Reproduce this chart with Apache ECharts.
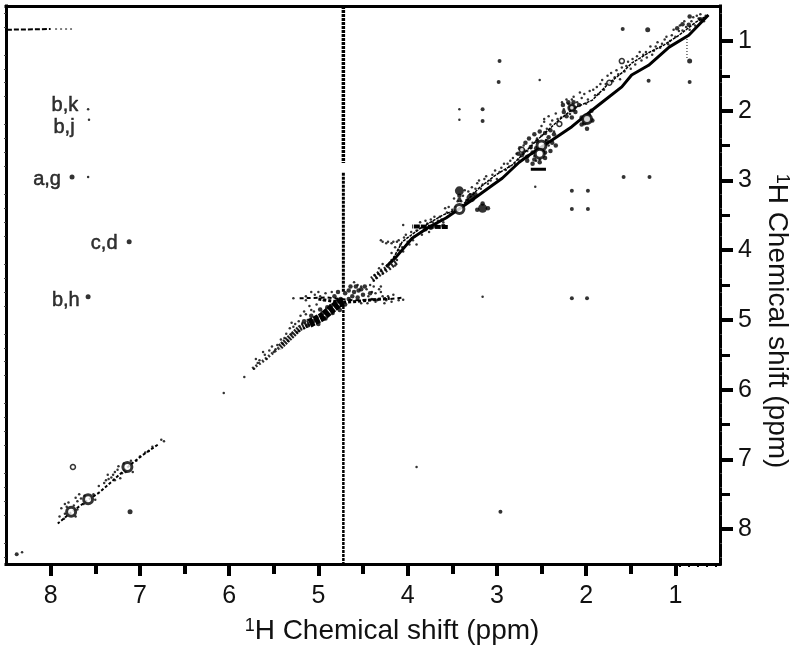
<!DOCTYPE html>
<html><head><meta charset="utf-8">
<style>html,body{margin:0;padding:0;background:#fff}#c{width:800px;height:654px}</style>
<script src="https://cdn.jsdelivr.net/npm/echarts@6/dist/echarts.min.js"></script>
</head><body><div id="c"></div>
<script>
// ---- tick values (ppm)
const majorTicks = [1,2,3,4,5,6,7,8];
const halfTicks = [1.5,2.5,3.5,4.5,5.5,6.5,7.5];
const fineTicksY = [0.6,0.8,1.2,1.4,1.6,1.8,2.2,2.4,2.6,2.8,3.2,3.4,3.6,3.8,4.2,4.4,4.6,4.8,5.2,5.4,5.6,5.8,6.2,6.4,6.6,6.8,7.2,7.4,7.6,7.8,8.2,8.4];
const fineTicksX = [0.55,0.65,0.75,0.85,0.95];
// ---- diagonal ridges [F2 ppm, F1 ppm]
const ridgeLower = [[0.63,0.63],[0.85,0.92],[1.07,1.09],[1.30,1.35],[1.49,1.49],[1.60,1.66],[1.86,1.92],[2.00,2.06],[2.16,2.23],[2.38,2.42],[2.64,2.64],[2.75,2.74],[2.94,2.97],[3.05,3.07],[3.31,3.31],[3.57,3.54],[3.76,3.67],[3.95,3.83],[4.13,4.10],[4.24,4.24]];
const ridgeUpper = [[0.63,0.63],[0.77,0.73],[0.96,0.92],[1.13,1.06],[1.30,1.17],[1.49,1.32],[1.60,1.46],[1.74,1.60],[1.93,1.85],[2.13,1.96],[2.30,2.13],[2.58,2.46],[2.83,2.78],[3.01,2.92],[3.20,3.11],[3.42,3.40],[3.61,3.50],[3.84,3.67],[4.06,3.88],[4.17,4.14]];
const ridgeMidUpper = [[4.13,4.17],[4.22,4.26],[4.30,4.32],[4.40,4.42]];
const ridgeWaterCore = [[4.72,4.74],[4.77,4.76],[4.96,4.96],[5.10,5.05]];
const ridgeMidLower = [[5.10,5.05],[5.21,5.12],[5.44,5.40]];
const ridgeMidTail = [[5.44,5.40],[5.63,5.60],[5.74,5.70]];
const ridgeAromatic = [[6.80,6.79],[6.97,6.94],[7.11,7.08],[7.30,7.30],[7.45,7.47],[7.59,7.59],[7.76,7.75],[7.92,7.92]];
// ---- solvent streaks
const waterUpper = [[4.72,0.5],[4.72,2.75]];
const waterMiddle = [[4.72,2.89],[4.72,4.6]];
const waterLower = [[4.72,4.8],[4.72,8.5]];
const waterH = [[5.21,4.69],[4.9,4.68],[4.6,4.72],[4.2,4.70],[4.04,4.68]];
const waterHCore = [[5.0,4.70],[4.75,4.75],[4.62,4.74],[4.2,4.69]];
const topStreakA = [[8.49,0.84],[8.0,0.83]];
const topStreakB = [[7.95,0.83],[7.76,0.83]];
const spikeA = [[0.87,0.93],[0.87,1.25]];
const bandHard = [[2.45,2.84],[2.62,2.84]];
const hsolidBand = [[3.55,3.67],[3.95,3.66]];
// ---- cross peaks and blobs
const crossHeavy = [[3.42,3.15],[3.16,3.40],[1.99,2.12],[3.29,3.25],[2.16,1.96]];
const crossLarge = [[7.12,3.88],[7.76,2.95],[7.58,4.67],[7.11,7.75],[0.84,1.29],[1.31,0.84]];
const crossMedium = [[2.97,1.29],[2.98,1.59],[1.59,0.83],[0.84,1.59],[3.16,1.98],[3.16,2.15],[1.58,2.95],[1.29,2.95],[2.16,3.15],[1.98,3.15],[2.16,3.41],[1.98,3.41],[2.16,4.69],[1.99,4.69],[2.96,7.75],[1.30,1.57],[8.38,8.36]];
const crossSmall = [[7.58,1.98],[7.57,2.13],[7.58,2.95],[3.42,1.98],[3.42,2.13],[3.16,4.67],[3.90,7.11],[2.52,1.56],[2.47,2.12],[2.57,3.09],[4.05,4.71],[4.05,3.64],[2.56,2.72],[8.32,8.33],[6.06,6.05],[5.83,5.82],[6.73,6.74],[6.76,6.72]];
const ringsLarge = [[7.77,7.75],[7.58,7.57],[7.14,7.11],[2.50,2.50],[2.52,2.62],[3.42,3.41],[1.99,2.12]];
const ringsSmall = [[7.75,7.11],[1.60,1.29],[2.16,1.96],[2.30,2.19],[1.74,1.60],[2.72,2.56]];
const blobDots = [[2.38,2.46],[2.42,2.38],[2.70,2.58],[2.62,2.52],[2.58,2.70],[2.66,2.66],[2.46,2.60],[2.55,2.44],[2.20,1.88],[2.12,2.02],[2.25,2.02],[1.97,2.06],[2.02,2.18],[1.99,2.26],[3.33,3.30],[3.24,3.20],[3.42,3.22],[3.42,3.28],[3.16,3.33],[3.10,3.40],[3.22,3.42],[3.60,3.65],[3.68,3.66],[3.74,3.68],[3.80,3.70],[0.85,0.77],[0.84,0.65],[0.98,0.82],[0.92,0.76],[0.72,0.69],[4.75,4.70],[4.70,4.62],[4.80,4.74],[4.66,4.70],[4.60,4.60],[4.55,4.58],[4.62,4.66],[4.50,4.64],[4.86,4.80],[4.95,4.90],[5.02,4.97],[5.06,5.02],[4.92,4.98],[4.98,4.85],
  [2.36,2.34],[2.40,2.28],[2.46,2.32],[2.52,2.30],[2.58,2.34],[2.64,2.40],[2.68,2.46],[2.74,2.54],[2.72,2.64],[2.66,2.72],[2.60,2.76],[2.52,2.74],[2.46,2.68],[2.40,2.58],[2.34,2.50],[2.44,2.44],[2.60,2.60],[2.56,2.54],[2.76,2.62],
  [2.08,1.92],[2.14,1.88],[2.26,1.92],[2.22,2.08],[2.16,2.10],[1.94,2.00],[2.05,2.10],[1.93,2.14],[2.05,2.20],
  [4.82,4.66],[4.78,4.60],[4.66,4.58],[4.58,4.52],[4.52,4.56],[4.70,4.78],[4.84,4.90],[4.90,4.82],[4.76,4.86],[5.00,5.06],[5.08,4.94],[5.12,5.08],[5.16,5.02],[4.64,4.52],[4.48,4.52],[4.56,4.68],[4.42,4.62]];
const speckDots = [[0.66,0.64],[0.70,0.70],[0.74,0.68],[0.78,0.78],[0.82,0.72],[0.88,0.80],[0.92,0.85],[0.95,0.78],[1.00,0.94],[1.04,0.92],[1.08,1.05],[1.12,0.98],[1.17,1.10],[1.22,1.08],[1.26,1.20],[1.33,1.16],[1.38,1.28],[1.43,1.22],[1.50,1.40],[1.55,1.36],[1.62,1.55],[1.66,1.42],[1.70,1.58],[1.76,1.50],[1.80,1.70],[1.84,1.62],[1.90,1.78],[1.96,1.72],[2.00,1.90],[2.05,1.82],[2.10,1.88],[2.14,1.80],[2.20,1.90],[2.25,1.98],[2.18,2.05],[2.28,2.10],[2.34,2.04],[2.40,2.20],[2.44,2.26],[2.36,2.30],[2.45,2.42],[2.50,2.36],[2.55,2.40],[2.60,2.46],[2.62,2.54],[2.66,2.58],[2.70,2.62],[2.58,2.65],[2.48,2.58],[2.42,2.50],[2.52,2.70],[2.70,2.50],[2.76,2.70],[2.80,2.76],[2.85,2.72],[2.90,2.85],[2.95,2.82],[3.00,2.98],[3.05,2.92],[3.10,3.05],[3.14,2.98],[3.18,3.12],[3.22,3.04],[3.26,3.18],[3.30,3.20],[3.34,3.28],[3.38,3.22],[3.44,3.30],[3.50,3.42],[3.54,3.38],[3.60,3.60],[3.64,3.52],[3.68,3.66],[3.72,3.60],[3.78,3.62],[3.82,3.72],[3.88,3.66],[3.92,3.80],[3.96,3.74],[4.00,3.88],[4.04,3.82],[4.08,3.92],[4.12,3.88],[4.18,3.90],[4.22,3.88],[4.28,3.88],[4.10,4.00],[4.05,4.02],[3.90,3.92],[4.15,4.10],[4.20,4.18],[4.25,4.28],[4.30,4.30],[4.35,4.40],[4.32,4.26],[7.20,7.20],[7.25,7.15],[7.30,7.22],[7.18,7.06],[7.22,7.27],[7.08,7.18],[7.10,7.02],[7.35,7.28],[7.28,7.30],[7.62,7.52],[7.66,7.56],[7.70,7.60],[7.52,7.50],[7.50,7.58],[7.63,7.64],[7.84,7.78],[7.82,7.68],[7.72,7.82],[7.70,7.72],[7.85,7.85],[7.80,7.62],[4.52,4.52],[4.46,4.56],[4.40,4.60],[4.44,4.66],[4.36,4.62],[4.30,4.60],[4.34,4.72],[4.56,4.50],[4.60,4.46],[4.52,4.76],[4.45,4.76],[4.85,4.60],[4.92,4.62],[4.98,4.66],[5.04,4.64],[5.10,4.80],[5.14,4.72],[5.05,4.88],[5.12,5.00],[5.18,5.05],[5.24,5.18],[5.30,5.20],[5.28,5.10],[5.34,5.30],[5.38,5.26],[5.46,5.36],[5.50,5.46],[5.55,5.44],[5.60,5.50],[5.66,5.58],[4.26,4.76],[4.10,4.72],[4.16,4.64],[5.28,4.69]];
const grainDots = [[0.68,0.72],[0.72,0.62],[0.76,0.64],[0.80,0.66],[0.84,0.84],[0.90,0.72],[0.96,0.86],[1.02,0.84],[1.06,1.00],[1.10,0.94],[1.15,1.04],[1.20,1.02],[1.24,1.14],[1.28,1.08],[1.32,1.24],[1.36,1.20],[1.40,1.16],[1.45,1.34],[1.48,1.26],[1.53,1.30],[1.57,1.44],[1.60,1.38],[1.64,1.48],[1.68,1.52],[1.72,1.46],[1.78,1.62],[1.82,1.56],[1.86,1.76],[1.88,1.66],[1.92,1.70],[1.98,1.84],[2.02,1.76],[2.07,1.74],[2.12,1.96],[2.16,1.84],[2.22,1.84],[2.27,1.88],[2.32,2.12],[2.38,2.14],[2.42,2.08],[2.47,2.16],[2.50,2.22],[2.78,2.62],[2.82,2.68],[2.86,2.80],[2.88,2.76],[2.92,2.76],[2.97,2.88],[3.02,2.86],[3.07,3.00],[3.12,2.94],[3.16,3.06],[3.20,3.00],[3.24,3.12],[3.28,3.10],[3.32,3.16],[3.36,3.14],[3.40,3.30],[3.46,3.38],[3.48,3.26],[3.52,3.48],[3.56,3.46],[3.58,3.40],[3.62,3.56],[3.66,3.58],[3.70,3.52],[3.74,3.56],[3.76,3.74],[3.80,3.58],[3.84,3.78],[3.86,3.60],[3.90,3.72],[3.94,3.86],[3.98,3.92],[4.02,3.78],[4.06,3.96],[4.10,3.86],[4.14,3.96],[4.16,3.88],[4.24,3.90],[4.30,3.86],[4.18,4.04],[4.14,4.22],[4.18,4.14],[4.23,4.22],[4.28,4.20],[4.28,4.34],[4.33,4.34],[4.37,4.36],[4.38,4.44],[4.12,4.14],
  [4.32,4.56],[4.38,4.52],[4.42,4.50],[4.28,4.66],[4.22,4.66],[4.24,4.72],[4.18,4.74],[4.36,4.74],[4.40,4.70],[4.30,4.52],[5.08,4.60],[5.14,4.66],[5.00,4.60],[4.94,4.72],[5.02,4.78],[5.08,4.86],[5.16,4.88],[5.20,4.94],[5.14,4.92],[5.22,5.02],[5.26,5.06],[5.30,5.04],[5.16,5.12],[5.22,5.16],[5.32,5.12],[5.36,5.20],[5.40,5.34],[5.42,5.28],[5.48,5.42],[5.52,5.38],[5.58,5.56],[5.62,5.46],[5.68,5.62],[5.70,5.56],[5.72,5.70],[7.16,7.18],[7.24,7.10],[7.28,7.18],[7.32,7.26],[7.36,7.22],[7.38,7.30],[7.40,7.34],[7.04,7.02],[7.00,6.96],[6.94,6.90],[6.90,6.88],[6.86,6.82],[7.46,7.38],[7.68,7.50],[7.72,7.55],[7.74,7.66],[7.88,7.70],[7.84,7.64],[7.90,7.82]];
// ---- peak labels
const peakLabels = ['b,k','b,j','a,g','c,d','b,h'];
const peakLabelPos = [[7.84,1.93],[7.85,2.24],[8.04,2.99],[7.40,3.90],[7.83,4.72]];

const xRange = {min:0.5,max:8.5,inverse:true,type:'value',splitLine:{show:false}};
const yRange = {min:0.5,max:8.5,inverse:true,type:'value',splitLine:{show:false}};
const black = '#000';
const axisLineStyle = {show:true,lineStyle:{color:black,width:3,cap:'square'}};
const labelStyle = {fontFamily:'Liberation Sans',fontSize:25,color:'#111'};
function nameRich(padding){
  return {fontFamily:'Liberation Sans',fontSize:28,color:'#111',padding,rich:{
    sup:{fontFamily:'Liberation Sans',fontSize:18,color:'#111',verticalAlign:'top',padding:[0,0,10,0]},
    t:{fontFamily:'Liberation Sans',fontSize:28,color:'#111'}}};
}
const nameText = '{sup|1}{t|H Chemical shift (ppm)}';

function line(data,width,dash,color){
  return {type:'line',data,symbol:'none',silent:true,smooth:false,z:3,
    lineStyle:{color:color||black,width,type:dash||'solid'}};
}
function dots(data,size,color,symbol,hollow){
  return {type:'scatter',data,symbol:symbol||'circle',symbolSize:size,silent:true,z:4,
    itemStyle:hollow?{color:'#fff',borderColor:black,borderWidth:hollow}:{color:color||black}};
}
const chart = echarts.init(document.getElementById('c'),null,{renderer:'canvas'});
chart.setOption({
  animation:false,backgroundColor:'#fff',
  grid:{left:6,right:80,top:6,bottom:90,containLabel:false,outerBoundsMode:'none'},
  xAxis:[
    {...xRange,position:'bottom',axisLine:axisLineStyle,
     axisTick:{show:true,customValues:majorTicks,length:12,lineStyle:{color:black,width:4}},
     axisLabel:{show:true,customValues:majorTicks,margin:20,formatter:v=>String(v),...labelStyle},
     name:nameText,nameLocation:'middle',nameGap:53,nameTextStyle:nameRich([0,0,0,58])},
    {...xRange,position:'bottom',axisLine:{show:false},axisLabel:{show:false},
     axisTick:{show:true,customValues:halfTicks,length:10,lineStyle:{color:black,width:4}}},
    {...xRange,position:'bottom',axisLine:{show:false},axisLabel:{show:false},
     axisTick:{show:true,customValues:fineTicksX,length:3,lineStyle:{color:black,width:2}}},
    {...xRange,position:'top',axisLine:axisLineStyle,axisLabel:{show:false},axisTick:{show:false}}
  ],
  yAxis:[
    {...yRange,position:'right',axisLine:axisLineStyle,
     axisTick:{show:true,customValues:majorTicks,length:13,lineStyle:{color:black,width:4}},
     axisLabel:{show:true,customValues:majorTicks,margin:18,formatter:v=>String(v),...labelStyle},
     name:nameText,nameLocation:'middle',nameGap:37,nameRotate:-90,nameTextStyle:nameRich([0,0,0,72])},
    {...yRange,position:'right',axisLine:{show:false},axisLabel:{show:false},
     axisTick:{show:true,customValues:halfTicks,length:10,lineStyle:{color:black,width:3}}},
    {...yRange,position:'right',axisLine:{show:false},axisLabel:{show:false},
     axisTick:{show:true,customValues:fineTicksY,length:2,lineStyle:{color:'#444',width:1}}},
    {...yRange,position:'left',axisLine:axisLineStyle,axisLabel:{show:false},
     axisTick:{show:true,customValues:fineTicksY,length:2,lineStyle:{color:'#444',width:1}}}
  ],
  series:[
    line(ridgeLower,3),
    line(ridgeUpper,1.5,[3,1]),
    line(ridgeMidUpper,6,[2,2],'#222'),
    line(ridgeWaterCore,9,[5,1]),
    line(ridgeMidLower,6,[2,1],'#222'),
    line(ridgeMidTail,3,[2,2],'#333'),
    line(ridgeAromatic,2,[3,2]),
    line(waterUpper,3.5,[3,1]),
    line(waterMiddle,3,[3,1]),
    line(waterLower,2.5,[3,1]),
    line(waterH,2,[4,3]),
    line(waterHCore,3,[3,2]),
    line(topStreakA,2,[5,2]),
    line(topStreakB,1,[2,3]),
    line(spikeA,1,[1,2]),
    line(bandHard,3),
    line(hsolidBand,4,[6,1]),
    dots(grainDots,2.5,black),
    dots(speckDots,2.5,black),
    dots(blobDots,4.5),
    dots(crossHeavy,9),
    dots(crossLarge,5),
    dots(crossMedium,4),
    dots(crossSmall,2.5),
    dots(ringsLarge,9,null,'circle',3),
    dots(ringsSmall,5,null,'circle',1.5),
    {type:'scatter',symbolSize:0,silent:true,z:5,
     data:peakLabels.map((name,i)=>({name,value:peakLabelPos[i]})),
     label:{show:true,position:'inside',formatter:p=>p.name,fontFamily:'Liberation Sans',fontSize:20,color:'#000',textBorderColor:'#000',textBorderWidth:0.5}}
  ]
});
</script></body></html>
